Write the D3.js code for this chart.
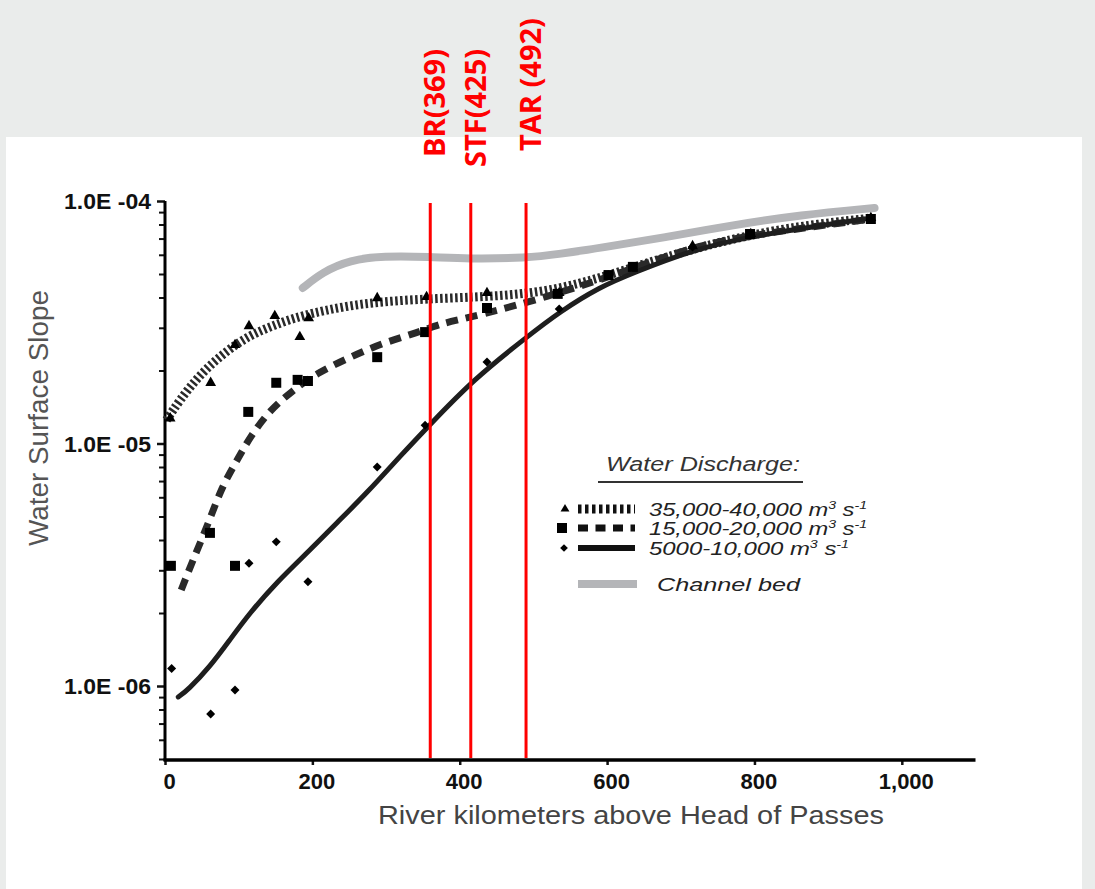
<!DOCTYPE html>
<html>
<head>
<meta charset="utf-8">
<script src="https://cdn.jsdelivr.net/npm/d3@7"></script>
<style>
  html, body { margin: 0; padding: 0; background: #eaeceb; }
  svg { display: block; }
</style>
</head>
<body>
<svg id="chart" width="1095" height="889"></svg>
<script>
// ---------------- DATA ----------------
const xTickValues = [0, 200, 400, 600, 800, 1000];
const xTickLabels = ["0", "200", "400", "600", "800", "1,000"];
const yMajorValues = [1e-4, 1e-5, 1e-6];
const yMajorLabels = ["1.0E -04", "1.0E -05", "1.0E -06"];

// observed points [river km, slope]
const pts35k = [[7,1.27e-5],[62,1.78e-5],[95,2.55e-5],[114,3.05e-5],[149,3.36e-5],[183,2.75e-5],[195,3.29e-5],
  [288,3.98e-5],[355,4.02e-5],[437,4.18e-5],[535,4.18e-5],[716,6.52e-5],[795,7.31e-5],[958,8.51e-5]];
const pts15k = [[8,3.13e-6],[61,4.28e-6],[95,3.13e-6],[113,1.35e-5],[151,1.78e-5],[180,1.83e-5],[194,1.81e-5],
  [288,2.27e-5],[353,2.88e-5],[437,3.62e-5],[533,4.14e-5],[602,4.95e-5],[635,5.35e-5],[794,7.31e-5],[958,8.43e-5]];
const pts5k = [[9,1.18e-6],[62,7.67e-7],[95,9.62e-7],[114,3.21e-6],[151,3.93e-6],[194,2.69e-6],[288,8.0e-6],
  [353,1.19e-5],[437,2.17e-5],[535,3.59e-5],[716,6.46e-5],[794,7.31e-5],[958,8.43e-5]];

// fitted curves [river km, slope]
const curve35k = [[2,1.25e-5],[20,1.51e-5],[47,1.92e-5],[81,2.38e-5],[115,2.8e-5],[149,3.08e-5],[183,3.36e-5],
  [251,3.73e-5],[319,3.9e-5],[387,3.98e-5],[455,4.06e-5],[522,4.25e-5],[590,4.81e-5],[658,5.6e-5],[726,6.46e-5],
  [794,7.24e-5],[862,7.89e-5],[959,8.51e-5]];
const curve15k = [[22,2.49e-6],[38,3.31e-6],[58,4.61e-6],[77,6.62e-6],[98,8.55e-6],[115,1.06e-5],[142,1.37e-5],
  [174,1.66e-5],[206,1.95e-5],[251,2.27e-5],[296,2.6e-5],[342,2.86e-5],[377,3.14e-5],[410,3.29e-5],[491,3.8e-5],
  [590,4.72e-5],[635,5.29e-5],[716,6.46e-5],[794,7.24e-5],[959,8.43e-5]];
const curve5k = [[18,9.01e-7],[31,9.62e-7],[61,1.2e-6],[88,1.55e-6],[115,2.0e-6],[152,2.69e-6],[197,3.64e-6],
  [233,4.7e-6],[274,6.25e-6],[323,9.14e-6],[360,1.2e-5],[418,1.83e-5],[491,2.75e-5],[536,3.5e-5],[590,4.42e-5],
  [635,5.05e-5],[716,6.28e-5],[794,7.17e-5],[959,8.51e-5]];
const curveBed = [[187,4.38e-5],[214,5.1e-5],[251,5.71e-5],[296,5.93e-5],[360,5.88e-5],[410,5.77e-5],[491,5.82e-5],
  [536,6.05e-5],[590,6.4e-5],[681,7.1e-5],[771,7.96e-5],[862,8.76e-5],[963,9.36e-5]];

// red annotation lines (river km where drawn) and labels
const markerKm = [360, 415, 490];
const markerLabels = ["BR(369)", "STF(425)", "TAR (492)"];

const legendTitle = "Water Discharge:";
const legendLabels = ["35,000-40,000 m", "15,000-20,000 m", "5000-10,000 m", "Channel bed"];

// ---------------- LAYOUT ----------------
const svg = d3.select("#chart");
const x = d3.scaleLinear().domain([0, 1100]).range([165, 975.5]);
const y = d3.scaleLog().domain([5e-7, 1e-4]).range([759, 201]);
const FONT = "'Liberation Sans', Arial, sans-serif";

// backgrounds
svg.append("rect").attr("x", 0).attr("y", 0).attr("width", 1095).attr("height", 889).attr("fill", "#eaeceb");
svg.append("rect").attr("x", 6).attr("y", 137).attr("width", 1076).attr("height", 752).attr("fill", "#ffffff");

// ---------------- AXES ----------------
const minorVals = [];
[1e-7, 1e-6, 1e-5].forEach(d => { for (let k = 2; k <= 9; k++) { const v = d * k; if (v >= 5e-7 && v <= 1e-4) minorVals.push(v); } });

const yMinorAxis = d3.axisLeft(y).tickValues(minorVals).tickSize(6).tickSizeOuter(0).tickFormat("");
const gYm = svg.append("g").attr("transform", "translate(165,0)").call(yMinorAxis);
gYm.select(".domain").remove();
gYm.selectAll(".tick line").attr("stroke", "#111").attr("stroke-width", 2);

const yMajorAxis = d3.axisLeft(y).tickValues(yMajorValues).tickSize(8).tickSizeOuter(0)
  .tickFormat((d, i) => yMajorLabels[i]).tickPadding(6);
const gY = svg.append("g").attr("transform", "translate(165,0)").call(yMajorAxis);
gY.select(".domain").remove();
gY.selectAll(".tick line").attr("stroke", "#111").attr("stroke-width", 2.5);
gY.selectAll(".tick text").attr("font-family", FONT)
  .attr("font-weight", "bold").attr("font-size", 22).attr("fill", "#111").attr("dy", "0.36em")
  .attr("textLength", 87).attr("lengthAdjust", "spacingAndGlyphs");

// y axis line
svg.append("line").attr("x1", 165).attr("x2", 165).attr("y1", y(1e-4)).attr("y2", 761)
  .attr("stroke", "#000").attr("stroke-width", 3);

const xAxis = d3.axisBottom(x).tickValues(xTickValues).tickSize(5).tickSizeOuter(0)
  .tickFormat((d, i) => xTickLabels[i]).tickPadding(8);
const gX = svg.append("g").attr("transform", "translate(0,760)").call(xAxis);
gX.select(".domain").remove();
gX.selectAll(".tick line").attr("stroke", "#111").attr("stroke-width", 2.5);
gX.selectAll(".tick text").attr("font-family", FONT)
  .attr("font-weight", "bold").attr("font-size", 22).attr("fill", "#111").attr("dx", 4);
svg.append("line").attr("x1", 163.5).attr("x2", x(1100)).attr("y1", 760).attr("y2", 760)
  .attr("stroke", "#000").attr("stroke-width", 3.5);

// axis titles
svg.append("text").attr("x", 631).attr("y", 824).attr("text-anchor", "middle")
  .attr("font-family", FONT).attr("font-size", 26).attr("fill", "#444")
  .attr("textLength", 506).attr("lengthAdjust", "spacingAndGlyphs")
  .text("River kilometers above Head of Passes");
svg.append("text").attr("transform", "translate(48,418) rotate(-90)").attr("text-anchor", "middle")
  .attr("font-family", FONT).attr("font-size", 27).attr("fill", "#555")
  .attr("textLength", 256).attr("lengthAdjust", "spacingAndGlyphs")
  .text("Water Surface Slope");

// ---------------- CURVES ----------------
const line = d3.line().x(d => x(d[0])).y(d => y(d[1])).curve(d3.curveBasis);

svg.append("path").datum(curveBed).attr("d", line).attr("fill", "none")
  .attr("stroke", "#b4b5b8").attr("stroke-width", 8).attr("stroke-linecap", "round");
svg.append("path").datum(curve35k).attr("d", line).attr("fill", "none")
  .attr("stroke", "#2a2a2a").attr("stroke-width", 9).attr("stroke-dasharray", "2.5,2.5");
svg.append("path").datum(curve15k).attr("d", line).attr("fill", "none")
  .attr("stroke", "#2a2a2a").attr("stroke-width", 7).attr("stroke-dasharray", "12,8");
svg.append("path").datum(curve5k).attr("d", line).attr("fill", "none")
  .attr("stroke", "#1e1e1e").attr("stroke-width", 5).attr("stroke-linecap", "round");

// ---------------- POINTS ----------------
const triSym = d3.symbol().type(d3.symbolTriangle).size(50);
const sqSym = d3.symbol().type(d3.symbolSquare).size(100);
const diaSym = d3.symbol().type(d3.symbolSquare).size(40);

svg.append("g").selectAll("path").data(pts35k).join("path")
  .attr("d", triSym).attr("fill", "#000")
  .attr("transform", d => `translate(${x(d[0])},${y(d[1])})`);
svg.append("g").selectAll("path").data(pts15k).join("path")
  .attr("d", sqSym).attr("fill", "#000")
  .attr("transform", d => `translate(${x(d[0])},${y(d[1])})`);
svg.append("g").selectAll("path").data(pts5k).join("path")
  .attr("d", diaSym).attr("fill", "#000")
  .attr("transform", d => `translate(${x(d[0])},${y(d[1])}) rotate(45)`);

// ---------------- LEGEND ----------------
const lg = svg.append("g").attr("font-family", FONT);
lg.append("text").attr("x", 703).attr("y", 471).attr("text-anchor", "middle")
  .attr("font-size", 20).attr("font-style", "italic").attr("fill", "#333")
  .attr("textLength", 194).attr("lengthAdjust", "spacingAndGlyphs").text(legendTitle);
lg.append("line").attr("x1", 598).attr("x2", 803).attr("y1", 482).attr("y2", 482)
  .attr("stroke", "#333").attr("stroke-width", 2);

const rowY = [509, 528, 548, 584];
const rowLen = [218, 218, 200, 143];
lg.append("path").attr("d", d3.symbol().type(d3.symbolTriangle).size(34)).attr("fill", "#000")
  .attr("transform", `translate(565,${rowY[0]})`);
lg.append("path").attr("d", d3.symbol().type(d3.symbolSquare).size(100)).attr("fill", "#000")
  .attr("transform", `translate(562,${rowY[1]})`);
lg.append("path").attr("d", d3.symbol().type(d3.symbolSquare).size(30)).attr("fill", "#000")
  .attr("transform", `translate(564,${rowY[2]}) rotate(45)`);

lg.append("line").attr("x1", 578).attr("x2", 635).attr("y1", rowY[0]).attr("y2", rowY[0])
  .attr("stroke", "#111").attr("stroke-width", 9).attr("stroke-dasharray", "3.5,3.5");
lg.append("line").attr("x1", 578).attr("x2", 635).attr("y1", rowY[1]).attr("y2", rowY[1])
  .attr("stroke", "#111").attr("stroke-width", 7).attr("stroke-dasharray", "10,7.5");
lg.append("line").attr("x1", 578).attr("x2", 635).attr("y1", rowY[2]).attr("y2", rowY[2])
  .attr("stroke", "#111").attr("stroke-width", 6);
lg.append("line").attr("x1", 578).attr("x2", 637).attr("y1", rowY[3]).attr("y2", rowY[3])
  .attr("stroke", "#b4b5b8").attr("stroke-width", 8);

for (let i = 0; i < 3; i++) {
  const t = lg.append("text").attr("x", 649).attr("y", rowY[i] + 7)
    .attr("font-size", 18.5).attr("font-style", "italic").attr("fill", "#222")
    .attr("textLength", rowLen[i]).attr("lengthAdjust", "spacingAndGlyphs");
  t.append("tspan").text(legendLabels[i]);
  t.append("tspan").attr("font-size", 11).attr("dy", -7).text("3");
  t.append("tspan").attr("dy", 7).text(" s");
  t.append("tspan").attr("font-size", 11).attr("dy", -7).text("-1");
}
lg.append("text").attr("x", 657).attr("y", rowY[3] + 7)
  .attr("font-size", 19).attr("font-style", "italic").attr("fill", "#222")
  .attr("textLength", rowLen[3]).attr("lengthAdjust", "spacingAndGlyphs").text(legendLabels[3]);

// ---------------- RED ANNOTATIONS ----------------
svg.append("g").selectAll("line").data(markerKm).join("line")
  .attr("x1", d => x(d)).attr("x2", d => x(d)).attr("y1", 203).attr("y2", 758)
  .attr("stroke", "#ff0000").attr("stroke-width", 3);

const labelBottom = [157, 167, 151];
const labelShift = [15, 15, 15];
svg.append("g").selectAll("text").data(markerKm).join("text")
  .attr("transform", (d, i) => `translate(${x(d) + labelShift[i]},${labelBottom[i]}) rotate(-90)`)
  .attr("font-family", "'Open Sans', 'Noto Sans', sans-serif").attr("font-weight", "bold")
  .attr("font-size", 29).attr("fill", "#ff0000")
  .text((d, i) => markerLabels[i]);
</script>
</body>
</html>
